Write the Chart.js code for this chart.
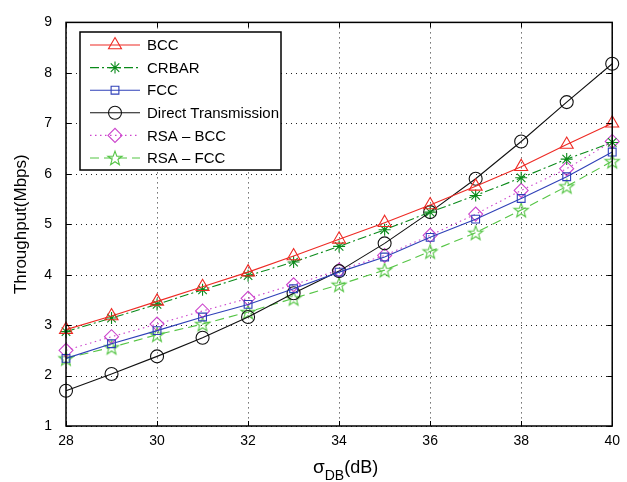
<!DOCTYPE html>
<html><head><meta charset="utf-8">
<script src="https://cdn.jsdelivr.net/npm/chart.js@4.4.0/dist/chart.umd.min.js"></script>
<style>html,body{margin:0;padding:0;background:#fff}#wrap{width:627px;height:482px}</style>
</head><body><div id="wrap"><canvas id="c" width="627" height="482"></canvas></div>
<script>
const xValues = [28,29,30,31,32,33,34,35,36,37,38,39,40];
const bcc = [2.91,3.18,3.47,3.76,4.05,4.37,4.70,5.03,5.38,5.75,6.14,6.58,7.00];
const crbar = [2.87,3.14,3.41,3.70,3.98,4.25,4.56,4.89,5.24,5.57,5.92,6.29,6.62];
const fcc = [2.34,2.63,2.89,3.16,3.41,3.72,4.05,4.35,4.74,5.10,5.51,5.94,6.43];
const direct = [1.70,2.03,2.38,2.75,3.16,3.63,4.07,4.62,5.24,5.90,6.64,7.42,8.18];
const rsaBcc = [2.50,2.77,3.02,3.28,3.53,3.80,4.09,4.38,4.78,5.20,5.67,6.10,6.64];
const rsaFcc = [2.34,2.56,2.81,3.02,3.26,3.53,3.80,4.09,4.46,4.83,5.28,5.75,6.25];
const labels = ['BCC','CRBAR','FCC','Direct Transmission','RSA \u2013 BCC','RSA \u2013 FCC'];
const xTicks = [28,30,32,34,36,38,40];
const yTicks = [1,2,3,4,5,6,7,8,9];

function pentagram(color){
  const c=document.createElement('canvas');c.width=18;c.height=18;
  const g=c.getContext('2d');g.strokeStyle=color;g.lineWidth=1.1;g.beginPath();
  const R=7.5,r=3.1,cx=9,cy=9.6;
  for(let i=0;i<10;i++){const a=-Math.PI/2+i*Math.PI/5;const rr=i%2?r:R;
    const px=cx+rr*Math.cos(a),py=cy+rr*Math.sin(a);i?g.lineTo(px,py):g.moveTo(px,py);}
  g.closePath();g.stroke();return c;
}
const pts = arr => arr.map((v,i)=>({x:xValues[i],y:v}));
const font = "'Liberation Sans', Arial, Helvetica, sans-serif";

const ds = [
 {label:labels[0],data:pts(bcc),borderColor:'#ee2a24',pointStyle:'triangle',pointRadius:7.5,borderDash:[]},
 {label:labels[1],data:pts(crbar),borderColor:'#0a8a1a',pointStyle:'star',pointRadius:6,borderDash:[9,3,2,3]},
 {label:labels[2],data:pts(fcc),borderColor:'#2f40b8',pointStyle:'rect',pointRadius:5.5,borderDash:[]},
 {label:labels[3],data:pts(direct),borderColor:'#111111',pointStyle:'circle',pointRadius:6.5,borderDash:[]},
 {label:labels[4],data:pts(rsaBcc),borderColor:'#cc44cc',pointStyle:'rectRot',pointRadius:7,borderDash:[1.5,3.5]},
 {label:labels[5],data:pts(rsaFcc),borderColor:'#55c545',pointStyle:pentagram('#55c545'),pointRadius:7,borderDash:[9,5]}
].map(d=>Object.assign(d,{borderWidth:1.1,pointBorderColor:d.borderColor,pointBackgroundColor:'rgba(0,0,0,0)',pointBorderWidth:1.1,fill:false,tension:0,clip:false}));

const deco = {
 id:'deco',
 beforeDatasetsDraw(chart){
  const {ctx,chartArea:a,scales:{x,y}}=chart;
  ctx.save();ctx.strokeStyle='#222';ctx.lineWidth=1;ctx.setLineDash([1,4]);
  xTicks.forEach(t=>{const px=Math.round(x.getPixelForValue(t))+0.5;ctx.beginPath();ctx.moveTo(px,a.top);ctx.lineTo(px,a.bottom);ctx.stroke();});
  yTicks.forEach(t=>{const py=Math.round(y.getPixelForValue(t))+0.5;ctx.beginPath();ctx.moveTo(a.left,py);ctx.lineTo(a.right,py);ctx.stroke();});
  ctx.restore();
 },
 afterDatasetsDraw(chart){
  const {ctx,chartArea:a,scales:{x,y}}=chart;
  ctx.save();ctx.strokeStyle='#000';ctx.lineWidth=1.5;ctx.setLineDash([]);
  ctx.strokeRect(a.left,a.top,a.right-a.left,a.bottom-a.top);
  ctx.lineWidth=1;
  xTicks.forEach(t=>{const px=Math.round(x.getPixelForValue(t))+0.5;ctx.beginPath();ctx.moveTo(px,a.bottom);ctx.lineTo(px,a.bottom-5);ctx.moveTo(px,a.top);ctx.lineTo(px,a.top+5);ctx.stroke();});
  yTicks.forEach(t=>{const py=Math.round(y.getPixelForValue(t))+0.5;ctx.beginPath();ctx.moveTo(a.left,py);ctx.lineTo(a.left+5,py);ctx.moveTo(a.right,py);ctx.lineTo(a.right-5,py);ctx.stroke();});
  // legend
  const L=80,T=32,W=201,H=138;
  ctx.fillStyle='#fff';ctx.fillRect(L,T,W,H);
  ctx.lineWidth=1.5;ctx.strokeStyle='#000';ctx.strokeRect(L,T,W,H);
  chart.data.datasets.forEach((d,i)=>{
    const yy=T+13+i*22.6;
    ctx.save();ctx.strokeStyle=d.borderColor;ctx.lineWidth=d.borderWidth;ctx.setLineDash(d.borderDash);
    ctx.beginPath();ctx.moveTo(L+10,yy);ctx.lineTo(L+60,yy);ctx.stroke();ctx.restore();
    ctx.save();ctx.setLineDash([]);ctx.strokeStyle=d.borderColor;ctx.fillStyle='rgba(0,0,0,0)';ctx.lineWidth=1.1;
    Chart.helpers.drawPoint(ctx,{pointStyle:d.pointStyle,radius:d.pointRadius,borderWidth:1.1,rotation:0},L+35,yy);
    ctx.restore();
    ctx.save();ctx.fillStyle='#000';ctx.font='15px '+font;ctx.textBaseline='middle';ctx.fillText(d.label,L+67,yy+1);ctx.restore();
  });
  ctx.restore();
 },
 afterDraw(chart){
  const {ctx,chartArea:a}=chart;
  ctx.save();ctx.fillStyle='#000';
  ctx.translate(21,(a.top+a.bottom)/2);ctx.rotate(-Math.PI/2);
  ctx.font='17px '+font;ctx.textAlign='center';ctx.textBaseline='middle';
  ctx.fillText('Throughput(Mbps)',0,0);ctx.restore();
  ctx.save();ctx.fillStyle='#000';ctx.textBaseline='alphabetic';
  ctx.font='19px '+font;const s='\u03c3';const w1=ctx.measureText(s).width;
  ctx.font='14px '+font;const sub='DB';const w2=ctx.measureText(sub).width;
  ctx.font='18px '+font;const r='(dB)';
  let sx=313;const by=473;
  ctx.font='19px '+font;ctx.fillText(s,sx,by);sx+=w1;
  ctx.font='14px '+font;ctx.fillText(sub,sx,by+7);sx+=w2;
  ctx.font='18px '+font;ctx.fillText(r,sx,by);
  ctx.restore();
 }
};

ctx=document.getElementById('c');
Chart.defaults.font.family=font;
new Chart(ctx,{type:'line',data:{datasets:ds},plugins:[deco],
 options:{responsive:false,animation:false,devicePixelRatio:1,
  layout:{padding:{top:16,right:10,left:0,bottom:0}},
  plugins:{legend:{display:false},tooltip:{enabled:false}},
  scales:{
   x:{type:'linear',min:28,max:40,afterBuildTicks:s=>{s.ticks=xTicks.map(v=>({value:v}));},
      grid:{display:false,drawTicks:false},border:{display:false},
      ticks:{color:'#000',font:{size:14},padding:7,maxRotation:0},
      afterFit:s=>{s.height=56;}},
   y:{min:1,max:9,afterBuildTicks:s=>{s.ticks=yTicks.map(v=>({value:v}));},
      grid:{display:false,drawTicks:false},border:{display:false},
      ticks:{color:'#000',font:{size:14},padding:14},
      afterFit:s=>{s.width=66;}}
  }}});
</script></body></html>
